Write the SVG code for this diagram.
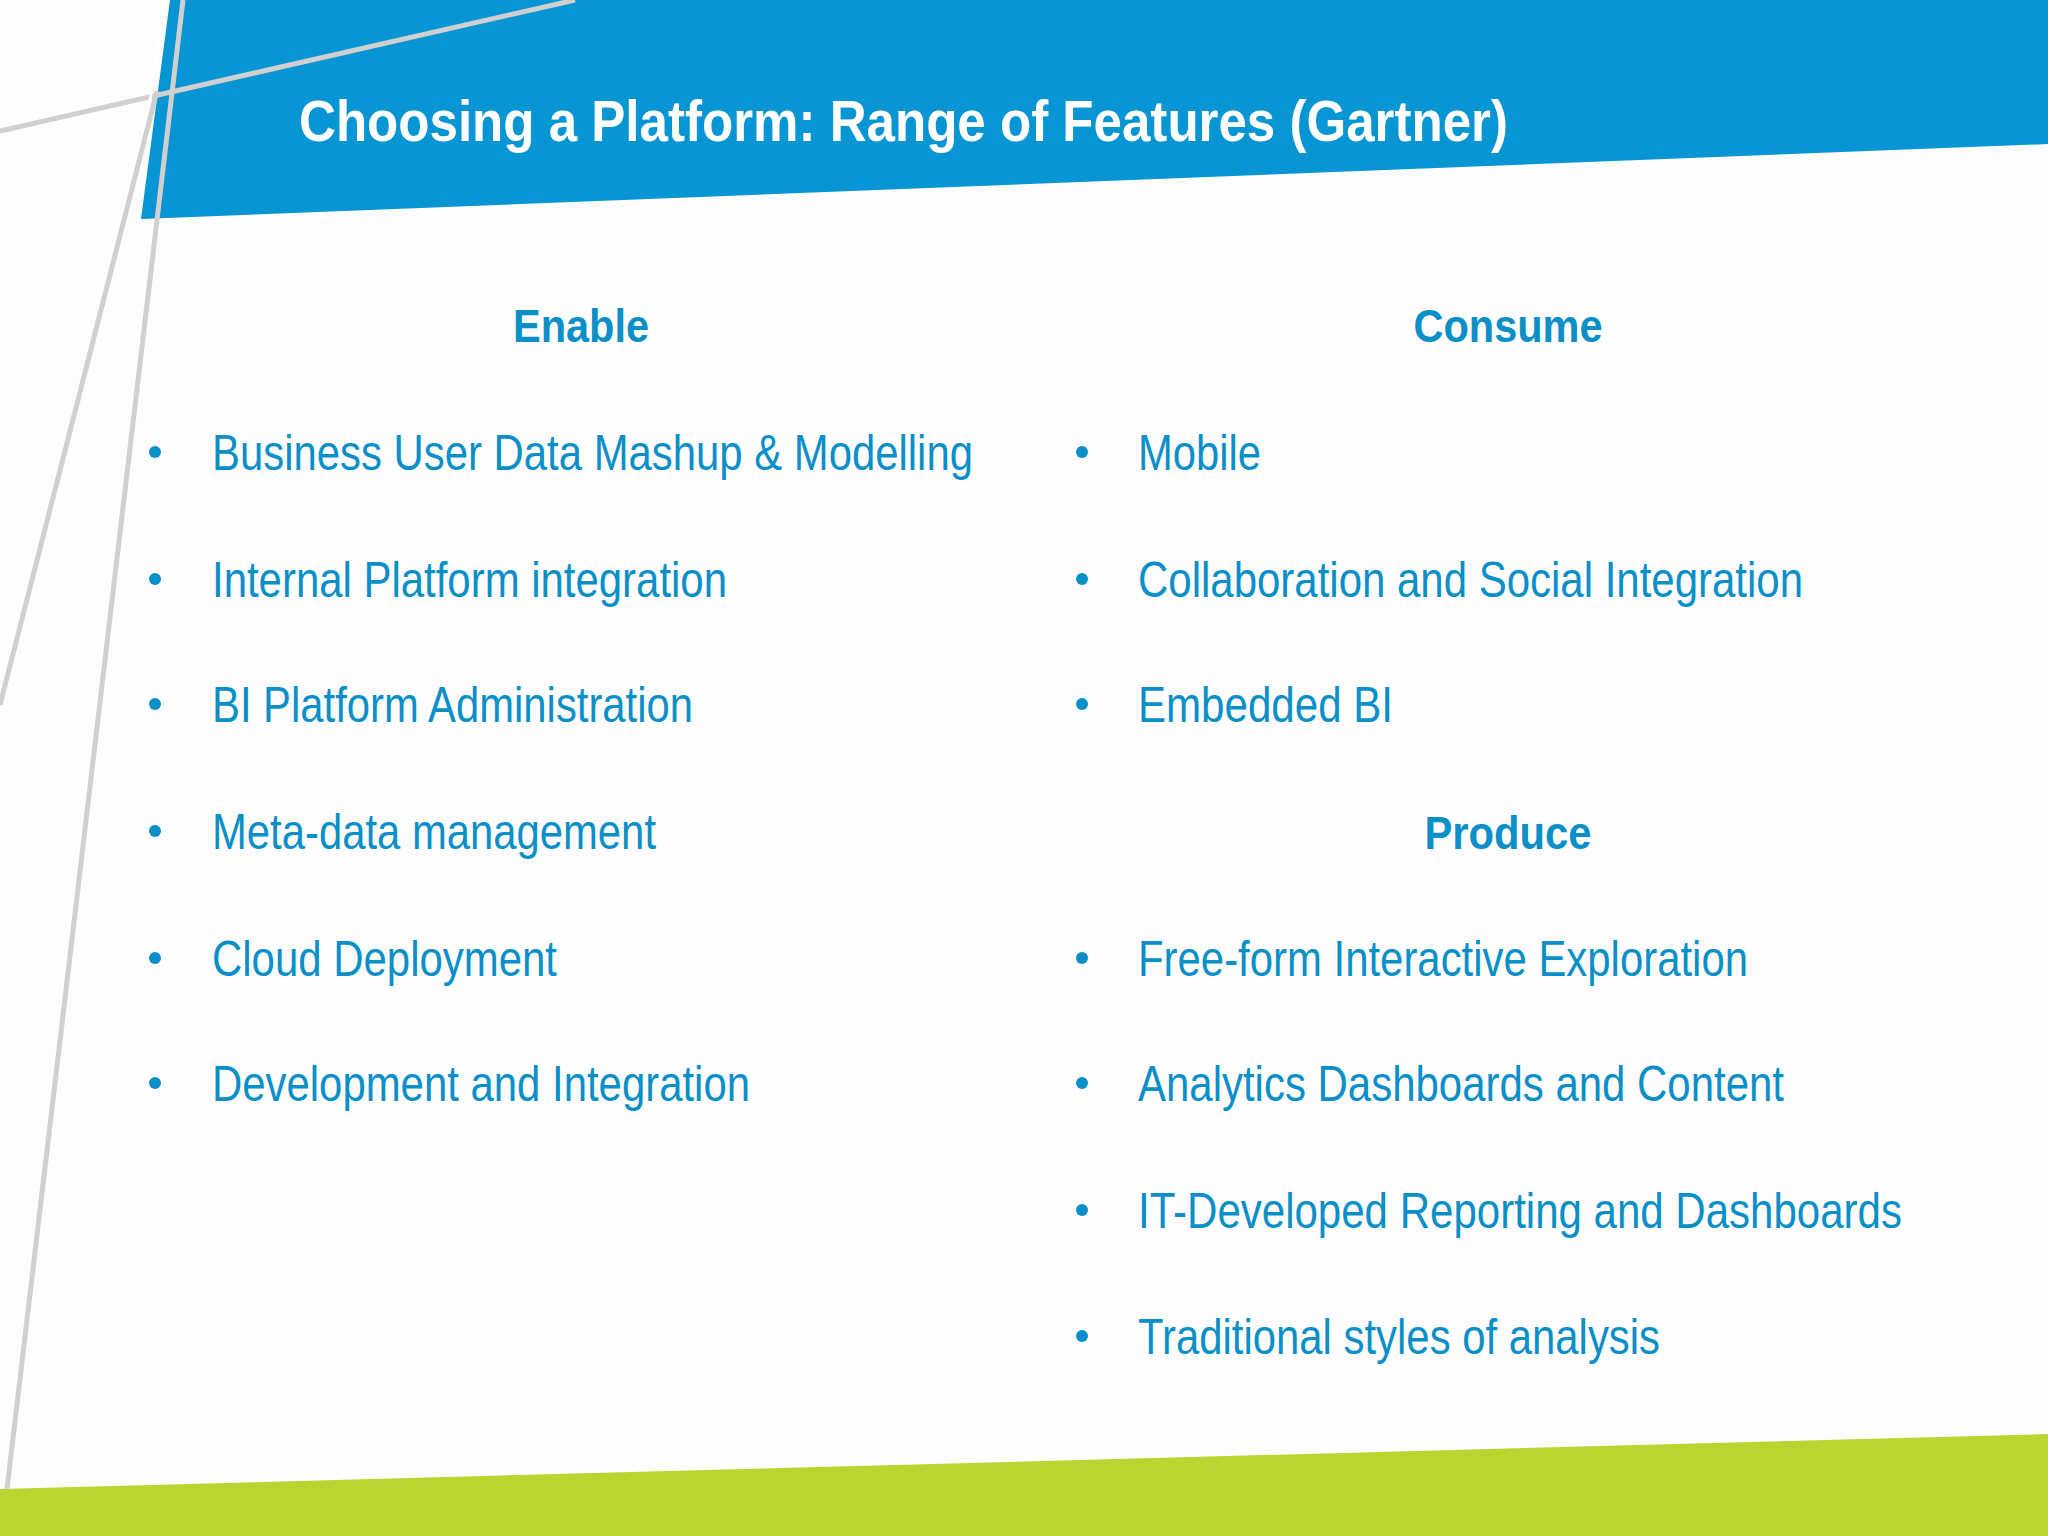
<svg xmlns="http://www.w3.org/2000/svg" width="2048" height="1536" viewBox="0 0 2048 1536">
<style>
.t{font-family:"Liberation Sans",Arial,sans-serif;font-size:50px;fill:#0A8FC9}
.h{font-family:"Liberation Sans",Arial,sans-serif;font-size:47px;font-weight:bold;fill:#0A8FC9;text-anchor:middle}
.b{fill:#0A8FC9}
.g{stroke:#D0D0D0;stroke-width:5;fill:none}
</style>
<rect width="2048" height="1536" fill="#FDFDFD"/>
<polygon points="170,0 2048,0 2048,144 141,219" fill="#0795D3"/>
<polygon points="0,1489 2048,1434 2048,1536 0,1536" fill="#BAD530"/>
<g id="decor">
<line class="g" x1="0" y1="131" x2="575" y2="0"/>
<line class="g" x1="157" y1="91" x2="0" y2="705"/>
<line class="g" x1="183" y1="0" x2="7" y2="1489"/>
<line x1="165" y1="0" x2="150" y2="100" stroke="#fff" stroke-width="3"/>
</g>
<g id="title"><text x="299" y="141" font-family="Liberation Sans,Arial,sans-serif" font-size="57" font-weight="bold" fill="#fff" textLength="1209" lengthAdjust="spacingAndGlyphs">Choosing a Platform: Range of Features (Gartner)</text></g>
<g id="enable">
<text class="h" x="581" y="342" textLength="136" lengthAdjust="spacingAndGlyphs">Enable</text>
<g class="b"><circle cx="155" cy="452" r="6"/><circle cx="155" cy="579" r="6"/><circle cx="155" cy="704" r="6"/><circle cx="155" cy="831" r="6"/><circle cx="155" cy="958" r="6"/><circle cx="155" cy="1083" r="6"/></g>
<text class="t" x="212" y="470" textLength="761" lengthAdjust="spacingAndGlyphs">Business User Data Mashup &amp; Modelling</text>
<text class="t" x="212" y="597" textLength="515" lengthAdjust="spacingAndGlyphs">Internal Platform integration</text>
<text class="t" x="212" y="722" textLength="481" lengthAdjust="spacingAndGlyphs">BI Platform Administration</text>
<text class="t" x="212" y="849" textLength="444" lengthAdjust="spacingAndGlyphs">Meta-data management</text>
<text class="t" x="212" y="976" textLength="345" lengthAdjust="spacingAndGlyphs">Cloud Deployment</text>
<text class="t" x="212" y="1101" textLength="538" lengthAdjust="spacingAndGlyphs">Development and Integration</text>
</g>
<g id="consume">
<text class="h" x="1508" y="342" textLength="189" lengthAdjust="spacingAndGlyphs">Consume</text>
<g class="b"><circle cx="1082" cy="452" r="6"/><circle cx="1082" cy="579" r="6"/><circle cx="1082" cy="704" r="6"/></g>
<text class="t" x="1138" y="470" textLength="123" lengthAdjust="spacingAndGlyphs">Mobile</text>
<text class="t" x="1138" y="597" textLength="665" lengthAdjust="spacingAndGlyphs">Collaboration and Social Integration</text>
<text class="t" x="1138" y="722" textLength="255" lengthAdjust="spacingAndGlyphs">Embedded BI</text>
</g>
<g id="produce">
<text class="h" x="1508" y="849" textLength="167" lengthAdjust="spacingAndGlyphs">Produce</text>
<g class="b"><circle cx="1082" cy="958" r="6"/><circle cx="1082" cy="1083" r="6"/><circle cx="1082" cy="1210" r="6"/><circle cx="1082" cy="1336" r="6"/></g>
<text class="t" x="1138" y="976" textLength="610" lengthAdjust="spacingAndGlyphs">Free-form Interactive Exploration</text>
<text class="t" x="1138" y="1101" textLength="646" lengthAdjust="spacingAndGlyphs">Analytics Dashboards and Content</text>
<text class="t" x="1138" y="1228" textLength="764" lengthAdjust="spacingAndGlyphs">IT-Developed Reporting and Dashboards</text>
<text class="t" x="1138" y="1354" textLength="522" lengthAdjust="spacingAndGlyphs">Traditional styles of analysis</text>
</g>
<g id="connectors"/>
</svg>
